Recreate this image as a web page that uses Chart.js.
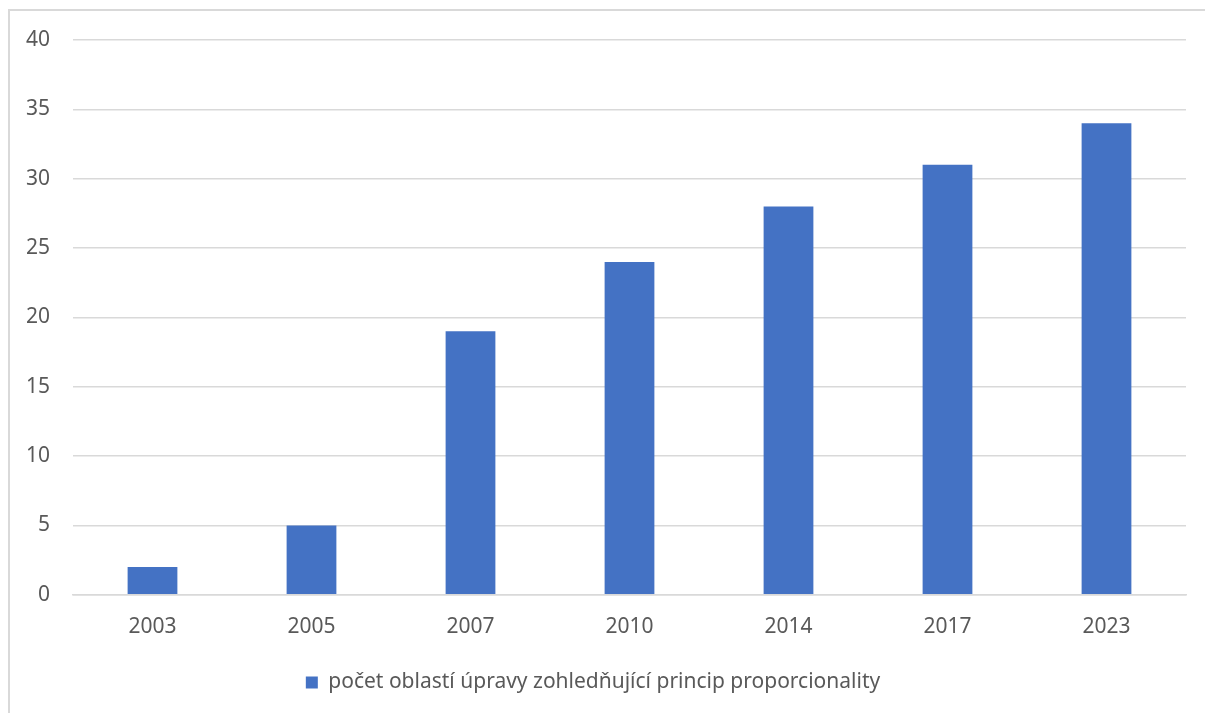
<!DOCTYPE html>
<html>
<head>
<meta charset="utf-8">
<style>
    html, body { margin: 0; padding: 0; background: #fff; }
    #wrap { position: relative; width: 1205px; height: 713px; overflow: hidden; }
    #frame { position: absolute; left: 8px; top: 9px; width: 1300px; height: 800px; border: 2px solid #d9d9d9; box-sizing: border-box; }
    #chart { position: absolute; left: 0; top: 0; }
</style>
</head>
<body>
<div id="wrap">
    <div id="frame"></div>
    <canvas id="chart" width="1205" height="713"></canvas>
</div>
<script src="https://cdn.jsdelivr.net/npm/chart.js"></script>
<script>
    // data
    const years = ['2003', '2005', '2007', '2010', '2014', '2017', '2023'];
    const areas = [2, 5, 19, 24, 28, 31, 34];
    const seriesLabel = 'počet oblastí úpravy zohledňující princip proporcionality';

    const fontFamily = '"Noto Sans", "Open Sans", sans-serif';
    const textColor = '#595959';
    const gridColor = '#d9d9d9';

    new Chart(document.getElementById('chart'), {
        type: 'bar',
        data: {
            labels: years,
            datasets: [{
                label: seriesLabel,
                data: areas,
                backgroundColor: '#4472c4',
                borderWidth: 0,
                categoryPercentage: 1,
                barPercentage: 0.313
            }]
        },
        options: {
            responsive: false,
            animation: false,
            layout: {
                padding: { left: 0, right: 19, top: 40, bottom: 10 }
            },
            plugins: {
                tooltip: { enabled: false },
                legend: {
                    position: 'bottom',
                    labels: {
                        boxWidth: 12,
                        boxHeight: 12,
                        padding: 10,
                        color: textColor,
                        font: { family: fontFamily, size: 21 }
                    }
                }
            },
            scales: {
                x: {
                    afterFit: function(scale) { scale.height += 2; },
                    grid: { display: false, drawTicks: false },
                    border: { display: true, color: gridColor, width: 1.5 },
                    ticks: {
                        padding: 20,
                        color: textColor,
                        font: { family: fontFamily, size: 21 }
                    }
                },
                y: {
                    min: 0,
                    max: 40,
                    afterFit: function(scale) { scale.width = 73; },
                    grid: { color: gridColor, lineWidth: 1.5, drawTicks: false },
                    border: { display: false },
                    ticks: {
                        stepSize: 5,
                        padding: 23,
                        color: textColor,
                        font: { family: fontFamily, size: 21 }
                    }
                }
            }
        }
    });
</script>
</body>
</html>
